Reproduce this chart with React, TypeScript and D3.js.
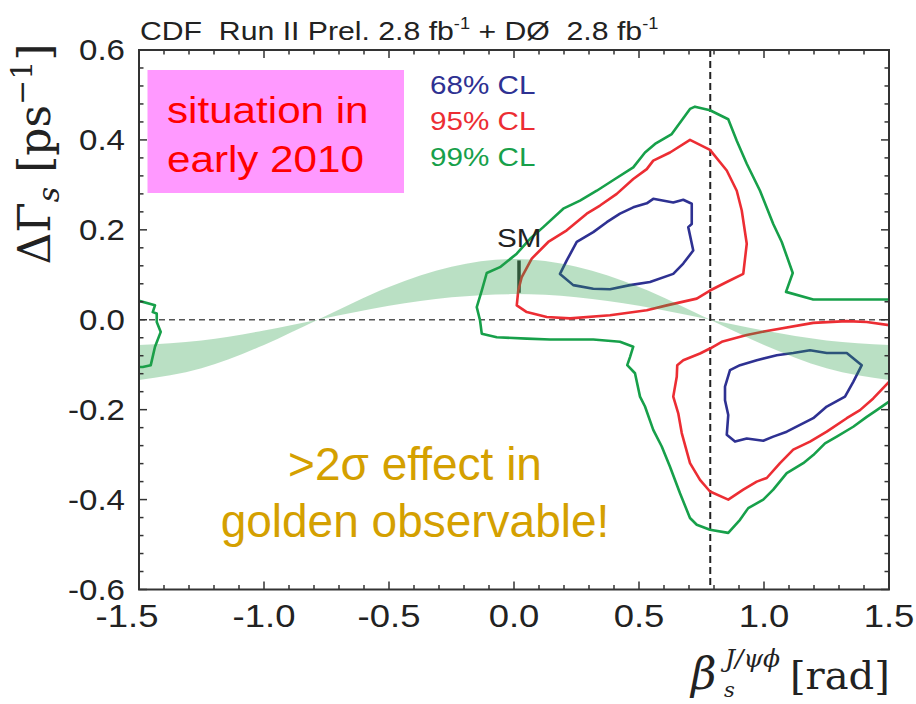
import React from 'react';
import * as d3 from 'd3';

const W = 916;
const H = 704;
const plot = { left: 139, right: 889, top: 50, bottom: 589.5 };

// axis ticks
const xTicks = [-1.5, -1.0, -0.5, 0.0, 0.5, 1.0, 1.5];
const yTicks = [-0.6, -0.4, -0.2, 0.0, 0.2, 0.4, 0.6];
const xMinorStep = 0.1;
const yMinorStep = 0.04;

// Standard Model point and the reference line at beta = pi/4
const smBeta = 0.02;
const smLow = 0.06;
const smHigh = 0.132;
const refBeta = 0.785;

// band of allowed (beta, DeltaGamma) from the SM width relation
const bandBeta = [-1.5, -1.25, -1.0, -0.785, -0.5, -0.25, 0.0, 0.25, 0.5, 0.785, 1.0, 1.25, 1.5];
const bandInner = [-0.056, -0.046, -0.024, 0.0, 0.031, 0.05, 0.057, 0.05, 0.031, 0.0, -0.024, -0.046, -0.056];
const bandOuter = [-0.134, -0.108, -0.056, 0.0, 0.073, 0.118, 0.135, 0.118, 0.073, 0.0, -0.056, -0.108, -0.134];

// confidence-level contours, (beta, DeltaGamma)
const cl68Upper: [number, number][] = [
  [0.557, 0.269], [0.637, 0.261], [0.677, 0.267], [0.711, 0.258], [0.711, 0.213], [0.697, 0.206],
  [0.717, 0.154], [0.677, 0.125], [0.637, 0.102], [0.544, 0.084], [0.464, 0.077], [0.384, 0.068],
  [0.317, 0.069], [0.237, 0.077], [0.184, 0.102], [0.211, 0.132], [0.251, 0.173], [0.317, 0.195],
  [0.371, 0.217], [0.424, 0.236], [0.477, 0.25], [0.531, 0.259],
];
const cl68Lower: [number, number][] = [
  [0.844, -0.149], [0.864, -0.112], [0.904, -0.101], [0.971, -0.09], [1.051, -0.079], [1.117, -0.074],
  [1.184, -0.068], [1.251, -0.074], [1.331, -0.074], [1.391, -0.101], [1.357, -0.138], [1.324, -0.171],
  [1.251, -0.193], [1.197, -0.219], [1.144, -0.234], [1.091, -0.249], [1.037, -0.26], [0.997, -0.269],
  [0.931, -0.264], [0.884, -0.271], [0.851, -0.256], [0.857, -0.212], [0.844, -0.179],
];
const cl95Upper: [number, number][] = [
  [0.704, 0.4], [0.784, 0.378], [0.851, 0.332], [0.891, 0.287], [0.911, 0.243], [0.931, 0.169],
  [0.917, 0.102], [0.851, 0.084], [0.784, 0.065], [0.731, 0.047], [0.611, 0.032], [0.531, 0.021],
  [0.384, 0.01], [0.224, 0.003], [0.131, 0.006], [0.051, 0.017], [0.011, 0.032], [0.017, 0.065],
  [0.031, 0.095], [0.071, 0.136], [0.137, 0.173], [0.211, 0.199], [0.291, 0.236], [0.344, 0.254],
  [0.411, 0.28], [0.477, 0.313], [0.531, 0.335], [0.557, 0.354], [0.624, 0.372],
];
const cl95Lower: [number, number][] = [
  [1.5, -0.012], [1.411, -0.005], [1.331, -0.003], [1.197, -0.007], [1.011, -0.025], [0.931, -0.034],
  [0.831, -0.049], [0.784, -0.064], [0.744, -0.075], [0.677, -0.09], [0.653, -0.101], [0.651, -0.127],
  [0.637, -0.171], [0.657, -0.208], [0.671, -0.252], [0.704, -0.319], [0.744, -0.356], [0.784, -0.382],
  [0.857, -0.4], [0.917, -0.378], [0.971, -0.36], [1.011, -0.352], [1.064, -0.319], [1.117, -0.289],
  [1.184, -0.271], [1.251, -0.249], [1.331, -0.219], [1.384, -0.201], [1.437, -0.175], [1.5, -0.138],
];
const cl99Main: [number, number][] = [
  [1.5, 0.045], [1.197, 0.045], [1.088, 0.062], [1.115, 0.104], [1.071, 0.173], [1.037, 0.213],
  [0.984, 0.287], [0.931, 0.347], [0.891, 0.398], [0.857, 0.446], [0.784, 0.466], [0.724, 0.474],
  [0.704, 0.469], [0.631, 0.413], [0.564, 0.391], [0.524, 0.372], [0.477, 0.339], [0.404, 0.313],
  [0.331, 0.287], [0.264, 0.265], [0.197, 0.247], [0.117, 0.206], [0.064, 0.18], [0.011, 0.147],
  [-0.056, 0.117], [-0.109, 0.104], [-0.129, 0.065], [-0.149, 0.028], [-0.136, -0.001], [-0.129, -0.031],
  [-0.069, -0.039], [0.051, -0.042], [0.144, -0.044], [0.317, -0.044], [0.424, -0.049], [0.477, -0.06],
  [0.464, -0.083], [0.453, -0.101], [0.484, -0.119], [0.504, -0.171], [0.524, -0.193], [0.557, -0.245],
  [0.591, -0.282], [0.624, -0.327], [0.664, -0.386], [0.704, -0.441], [0.731, -0.456], [0.784, -0.467],
  [0.857, -0.474], [0.904, -0.445], [0.937, -0.419], [0.997, -0.4], [1.037, -0.378], [1.091, -0.341],
  [1.157, -0.319], [1.197, -0.301], [1.244, -0.275], [1.291, -0.26], [1.357, -0.238], [1.411, -0.216],
  [1.451, -0.201], [1.5, -0.182],
];
const cl99Left: [number, number][] = [
  [-1.5, 0.042], [-1.436, 0.032], [-1.445, 0.017], [-1.429, 0.014], [-1.429, -0.005], [-1.413, -0.027],
  [-1.436, -0.06], [-1.453, -0.101], [-1.485, -0.105], [-1.5, -0.105],
];

const legendLabels = ['68% CL', '95% CL', '99% CL'];
const legendColors = ['#2e3192', '#ec2d33', '#17a04a'];

const STRETCH = 1.14;
const SANS = '"Liberation Sans", Arial, Helvetica, sans-serif';
const SERIF = '"DejaVu Serif", serif';

function SText(props: {
  x: number; y: number; size: number; fill?: string; anchor?: string; stretch?: number; children: React.ReactNode;
}) {
  const { x, y, size, fill = '#222', anchor = 'start', stretch = STRETCH, children } = props;
  return (
    <text
      transform={`translate(${x},${y}) scale(${stretch},1)`}
      fontFamily={SANS}
      fontSize={size}
      fill={fill}
      textAnchor={anchor}
      style={{ whiteSpace: 'pre' }}
    >
      {children}
    </text>
  );
}

export default function App() {
  const x = d3.scaleLinear().domain([-1.5, 1.5]).range([plot.left, plot.right]);
  const y = d3.scaleLinear().domain([-0.6, 0.6]).range([plot.bottom, plot.top]);

  const open = d3.line<[number, number]>().x((d) => x(d[0])).y((d) => y(d[1]));
  const closed = d3.line<[number, number]>().x((d) => x(d[0])).y((d) => y(d[1])).curve(d3.curveLinearClosed);

  const bandRows = bandBeta.map((b, i) => ({ b, lo: bandInner[i], hi: bandOuter[i] }));
  const band = d3
    .area<{ b: number; lo: number; hi: number }>()
    .x((d) => x(d.b))
    .y0((d) => y(d.lo))
    .y1((d) => y(d.hi))
    .curve(d3.curveMonotoneX);

  const isMultiple = (v: number, step: number) => Math.abs(v / step - Math.round(v / step)) < 1e-6;
  const xMinor = d3.range(-1.5, 1.5 + 1e-6, xMinorStep).filter((v) => !isMultiple(v, 0.5));
  const yMinor = d3.range(-0.6, 0.6 + 1e-6, yMinorStep).filter((v) => !isMultiple(v, 0.2));

  const majorLen = 8;
  const minorLen = 4.5;
  const axisColor = '#333';

  return (
    <svg width={W} height={H} style={{ position: 'absolute', left: 0, top: 0, background: '#fff' }}>
      <defs>
        <clipPath id="plotArea">
          <rect x={plot.left} y={plot.top} width={plot.right - plot.left} height={plot.bottom - plot.top} />
        </clipPath>
      </defs>

      {/* title */}
      <SText x={140} y={40} size={26.5}>
        {'CDF  Run II Prel. 2.8 fb'}
        <tspan fontSize={16} dy={-11}>{'-1'}</tspan>
        <tspan dy={11}>{' + DØ  2.8 fb'}</tspan>
        <tspan fontSize={16} dy={-11}>{'-1'}</tspan>
      </SText>

      <g clipPath="url(#plotArea)">
        {/* reference lines */}
        <line x1={plot.left} x2={plot.right} y1={y(0)} y2={y(0)} stroke="#555" strokeWidth={1.5} strokeDasharray="6,4" />
        <line x1={x(refBeta)} x2={x(refBeta)} y1={plot.top} y2={plot.bottom} stroke="#222" strokeWidth={2} strokeDasharray="7,4" />

        {/* SM marker */}
        <line x1={x(smBeta)} x2={x(smBeta)} y1={y(smLow)} y2={y(smHigh)} stroke="#333" strokeWidth={3.5} />

        {/* contours */}
        <g fill="none" strokeWidth={2.6} strokeLinejoin="round">
          <path d={open(cl99Main) || ''} stroke={legendColors[2]} />
          <path d={open(cl99Left) || ''} stroke={legendColors[2]} />
          <path d={closed(cl95Upper) || ''} stroke={legendColors[1]} />
          <path d={open(cl95Lower) || ''} stroke={legendColors[1]} />
          <path d={closed(cl68Upper) || ''} stroke={legendColors[0]} />
          <path d={closed(cl68Lower) || ''} stroke={legendColors[0]} />
        </g>

        {/* SM band */}
        <path d={band(bandRows) || ''} fill="rgb(40,160,70)" fillOpacity={0.32} />
      </g>

      {/* ticks */}
      <g stroke={axisColor} strokeWidth={1.5}>
        {xTicks.map((v) => (
          <g key={`xt${v}`}>
            <line x1={x(v)} x2={x(v)} y1={plot.bottom} y2={plot.bottom - majorLen} />
            <line x1={x(v)} x2={x(v)} y1={plot.top} y2={plot.top + majorLen} />
          </g>
        ))}
        {xMinor.map((v) => (
          <g key={`xm${v}`}>
            <line x1={x(v)} x2={x(v)} y1={plot.bottom} y2={plot.bottom - minorLen} />
            <line x1={x(v)} x2={x(v)} y1={plot.top} y2={plot.top + minorLen} />
          </g>
        ))}
        {yTicks.map((v) => (
          <g key={`yt${v}`}>
            <line x1={plot.left} x2={plot.left + majorLen} y1={y(v)} y2={y(v)} />
            <line x1={plot.right} x2={plot.right - majorLen} y1={y(v)} y2={y(v)} />
          </g>
        ))}
        {yMinor.map((v) => (
          <g key={`ym${v}`}>
            <line x1={plot.left} x2={plot.left + minorLen} y1={y(v)} y2={y(v)} />
            <line x1={plot.right} x2={plot.right - minorLen} y1={y(v)} y2={y(v)} />
          </g>
        ))}
      </g>

      {/* frame */}
      <rect
        x={plot.left}
        y={plot.top}
        width={plot.right - plot.left}
        height={plot.bottom - plot.top}
        fill="none"
        stroke={axisColor}
        strokeWidth={2}
      />

      {/* tick labels */}
      {xTicks.map((v, i) => (
        <SText key={`xl${v}`} x={x(v) + (i === 0 ? -12 : 0)} y={627} size={32} anchor="middle">
          {v.toFixed(1)}
        </SText>
      ))}
      {yTicks.map((v) => (
        <SText key={`yl${v}`} x={125} y={y(v) + 10} size={29} anchor="end">
          {v.toFixed(1)}
        </SText>
      ))}

      {/* SM label */}
      <SText x={497} y={247} size={26}>SM</SText>

      {/* legend */}
      {legendLabels.map((t, i) => (
        <SText key={t} x={430} y={94 + i * 36} size={26} fill={legendColors[i]}>
          {t}
        </SText>
      ))}

      {/* annotation box */}
      <rect x={147.5} y={70} width={256.5} height={123} fill="#ff99ff" />
      <SText x={167} y={123} size={37} fill="#ff0000">situation in</SText>
      <SText x={167} y={172} size={37} fill="#ff0000">early 2010</SText>

      <SText x={415} y={480} size={46} fill="#d4a000" anchor="middle" stretch={1}>
        {'>2σ effect in'}
      </SText>
      <SText x={415} y={537} size={46} fill="#d4a000" anchor="middle" stretch={1}>
        golden observable!
      </SText>

      {/* axis titles */}
      <text transform="translate(50,154) rotate(-90)" fontFamily={SERIF} fontSize={44} fill="#222" textAnchor="middle">
        ΔΓ
        <tspan fontSize={30} fontStyle="italic" dy={9}>s</tspan>
        <tspan dy={-9}>{' [ps'}</tspan>
        <tspan fontSize={30} dy={-18}>−1</tspan>
        <tspan dy={18}>]</tspan>
      </text>

      <g fontFamily={SERIF} fill="#222">
        <text x={691} y={689} fontSize={44} fontStyle="italic">β</text>
        <text x={724} y={697} fontSize={21} fontStyle="italic">s</text>
        <text x={725} y={667} fontSize={25} fontStyle="italic">J/ψϕ</text>
        <text x={790} y={689} fontSize={40}>[rad]</text>
      </g>
    </svg>
  );
}
